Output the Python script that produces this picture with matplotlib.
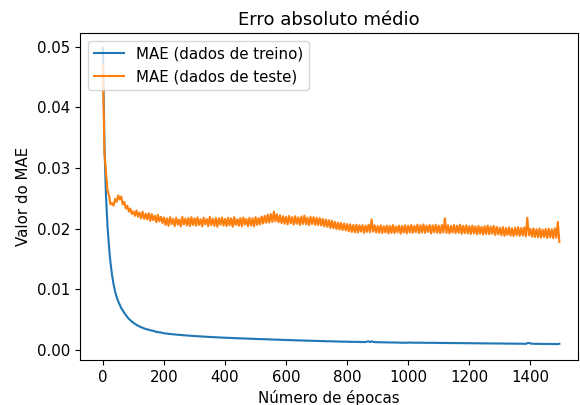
import numpy as np
import matplotlib
matplotlib.use('Agg')
import matplotlib.pyplot as plt

plt.rcParams['font.size'] = 10.8

epocas = np.arange(0, 1500, 5)

mae_treino = [
    4980, 3400, 2550, 2050, 1700, 1430, 1230, 1080, 960, 870, 800, 742, 688, 651, 608, 572, 541, 508, 487, 462,
    447, 425, 412, 394, 385, 370, 364, 350, 345, 334, 331, 320, 318, 309, 306, 291, 295, 284, 286, 276,
    273, 266, 268, 260, 262, 255, 257, 250, 252, 245, 248, 241, 243, 236, 239, 233, 234, 229, 231, 225,
    228, 222, 225, 219, 221, 216, 219, 212, 215, 210, 212, 207, 210, 204, 207, 202, 205, 199, 203, 197,
    200, 195, 198, 193, 196, 191, 194, 189, 192, 186, 190, 184, 188, 183, 186, 180, 185, 178, 183, 176,
    181, 174, 179, 172, 177, 171, 175, 169, 174, 167, 172, 165, 171, 163, 169, 162, 167, 160, 165, 158,
    163, 157, 161, 155, 160, 153, 158, 152, 157, 150, 155, 149, 154, 147, 152, 146, 151, 144, 149, 143,
    148, 142, 146, 140, 145, 139, 143, 137, 142, 136, 140, 135, 139, 133, 138, 132, 136, 131, 135, 130,
    134, 129, 133, 128, 132, 127, 131, 126, 130, 125, 129, 124, 128, 134, 138, 126, 140, 129, 127, 122,
    126, 121, 125, 120, 124, 119, 123, 118, 122, 117, 121, 116, 120, 115, 119, 114, 118, 113, 117, 112,
    120, 115, 119, 114, 118, 114, 118, 113, 117, 113, 117, 112, 116, 112, 116, 111, 115, 111, 115, 110,
    114, 110, 114, 109, 113, 109, 113, 108, 112, 108, 112, 107, 111, 107, 111, 106, 110, 106, 110, 105,
    109, 105, 109, 104, 108, 104, 108, 103, 107, 103, 107, 102, 106, 102, 106, 101, 105, 101, 105, 100,
    104, 100, 104, 99, 103, 99, 103, 98, 102, 98, 102, 97, 101, 97, 101, 96, 100, 96, 108, 112,
    104, 97, 101, 95, 100, 94, 99, 94, 98, 93, 98, 92, 97, 92, 97, 91, 96, 91, 95, 98,
]

mae_teste = [
    4700, 3250, 2930, 2630, 2550, 2400, 2420, 2380, 2490, 2440, 2550, 2480, 2530, 2400, 2440, 2330, 2380, 2280, 2330, 2240,
    2285, 2210, 2300, 2195, 2265, 2170, 2280, 2160, 2245, 2150, 2255, 2125, 2240, 2140, 2215, 2105, 2230, 2120, 2195, 2090,
    2185, 2060, 2170, 2045, 2190, 2075, 2160, 2040, 2180, 2065, 2150, 2035, 2195, 2070, 2165, 2050, 2175, 2040, 2190, 2060,
    2170, 2045, 2185, 2060, 2155, 2035, 2180, 2070, 2160, 2040, 2195, 2055, 2165, 2045, 2175, 2030, 2170, 2065, 2185, 2050,
    2160, 2040, 2180, 2055, 2170, 2030, 2190, 2060, 2155, 2045, 2175, 2035, 2185, 2065, 2160, 2040, 2180, 2050, 2170, 2035,
    2190, 2060, 2175, 2070, 2200, 2085, 2210, 2095, 2230, 2100, 2240, 2110, 2280, 2120, 2235, 2105, 2220, 2090, 2205, 2080,
    2195, 2070, 2210, 2085, 2190, 2065, 2205, 2080, 2185, 2060, 2200, 2075, 2215, 2070, 2180, 2055, 2195, 2075, 2190, 2060,
    2180, 2055, 2175, 2050, 2160, 2035, 2150, 2030, 2140, 2010, 2130, 2005, 2110, 1990, 2100, 1985, 2095, 1975, 2085, 1970,
    2075, 1955, 2070, 1945, 2060, 1940, 2065, 1935, 2055, 1950, 2060, 1930, 2050, 1945, 2065, 1940, 2150, 1950, 2055, 1935,
    2045, 1930, 2055, 1925, 2040, 1935, 2050, 1920, 2045, 1930, 2060, 1925, 2035, 1940, 2050, 1915, 2045, 1935, 2055, 1920,
    2050, 1935, 2060, 1930, 2045, 1940, 2065, 1925, 2055, 1935, 2070, 1930, 2050, 1945, 2060, 1920, 2055, 1940, 2065, 1930,
    2050, 1925, 2060, 1935, 2170, 1930, 2055, 1920, 2045, 1935, 2060, 1925, 2050, 1930, 2065, 1915, 2045, 1925, 2055, 1920,
    2040, 1910, 2050, 1920, 2035, 1905, 2045, 1915, 2030, 1900, 2040, 1910, 2050, 1905, 2035, 1915, 2045, 1895, 2030, 1905,
    2015, 1890, 2025, 1880, 2010, 1895, 2020, 1885, 2005, 1875, 2015, 1890, 2025, 1880, 2010, 1885, 2020, 1870, 2180, 1890,
    1995, 1865, 2005, 1860, 1990, 1855, 2000, 1850, 1985, 1860, 1995, 1845, 2000, 1855, 1990, 1840, 2005, 1850, 2110, 1780,
]

treino = np.array(mae_treino) / 1e5
teste = np.array(mae_teste) / 1e5

fig = plt.figure(figsize=(5.8, 4.05), dpi=100)
ax = fig.add_axes([80 / 580, 45 / 405, 498 / 580, 327 / 405])

ax.plot(epocas, treino, label='MAE (dados de treino)')
ax.plot(epocas, teste, label='MAE (dados de teste)')

ax.set_xlim(-75, 1556)
ax.set_ylim(-0.0017, 0.0523)
ax.set_title('Erro absoluto médio', fontsize=13)
ax.set_xlabel('Número de épocas')
ax.set_ylabel('Valor do MAE')
ax.legend(loc='upper left')

fig.savefig('out.png', dpi=100)
